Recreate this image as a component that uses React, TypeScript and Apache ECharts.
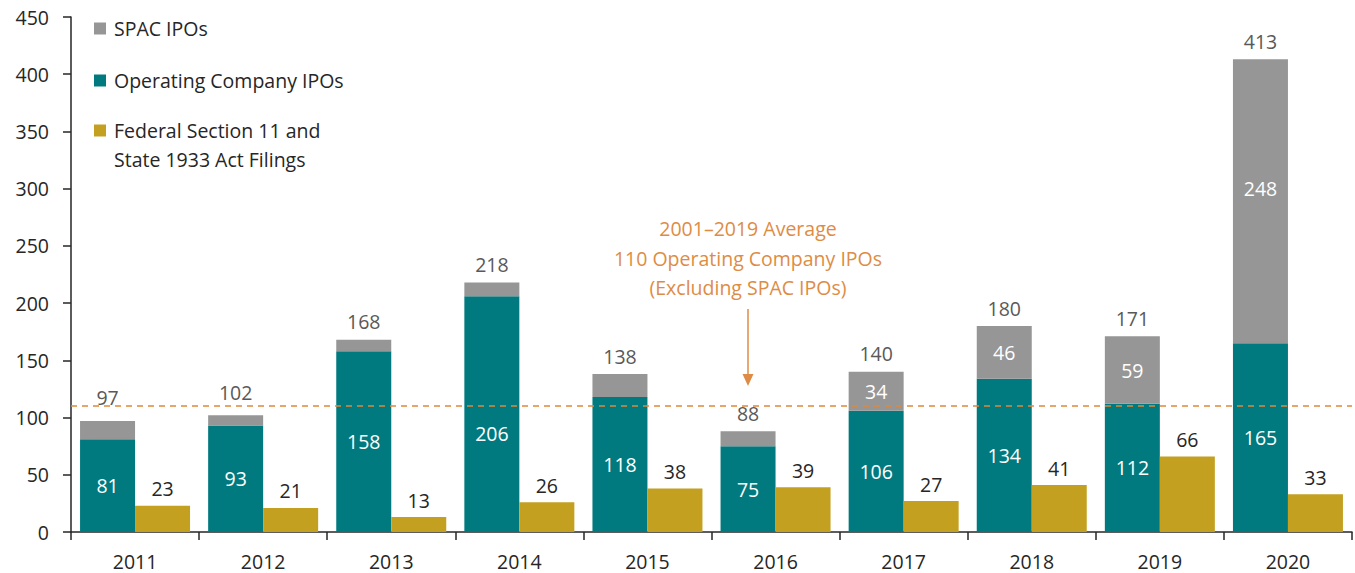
import React, { useEffect, useRef } from "react";
import * as echarts from "echarts";

const years = ["2011", "2012", "2013", "2014", "2015", "2016", "2017", "2018", "2019", "2020"];
const operatingIPOs = [81, 93, 158, 206, 118, 75, 106, 134, 112, 165];
const spacIPOs = [16, 9, 10, 12, 20, 13, 34, 46, 59, 248];
const totalIPOs = [97, 102, 168, 218, 138, 88, 140, 180, 171, 413];
const filings = [23, 21, 13, 26, 38, 39, 27, 41, 66, 33];
const averageOperating = 110;
const annotationLines = ["2001\u20132019 Average", "110 Operating Company IPOs", "(Excluding SPAC IPOs)"];

const SPAC_NAME = "SPAC IPOs";
const OP_NAME = "Operating Company IPOs";
const FED_NAME = "Federal Section 11 and\nState 1933 Act Filings";

const FONT = '"Open Sans", sans-serif';
const FS = 19.5;
const ORANGE = "#DE8C45";
const DARK = "#262626";

export default function App() {
  const ref = useRef<HTMLDivElement>(null);
  useEffect(() => {
    document.body.style.margin = "0";
    if (!ref.current) return;
    const chart = echarts.init(ref.current, undefined, { renderer: "svg" });
    const barW = 55;

    // label nudges to mirror the reference's hand-placed labels
    const opData = operatingIPOs.map((v, i) =>
      i === 3 ? { value: v, label: { offset: [0, 19] } } : v
    );
    const spacData = spacIPOs.map((v, i) =>
      i === 9 ? { value: v, label: { offset: [0, -13] } } : v
    );
    const totalData = totalIPOs.map((_, i) =>
      i <= 1 ? { value: 0, label: { offset: [0, -5] } } : 0
    );

    const option: any = {
      animation: false,
      textStyle: { fontFamily: FONT },
      grid: { left: 71, right: 3, top: 17, bottom: 41 },
      legend: [
        {
          data: [SPAC_NAME, OP_NAME],
          orient: "vertical",
          left: 94,
          top: 14,
          padding: 0,
          itemWidth: 12,
          itemHeight: 12,
          itemGap: 23,
          icon: "rect",
          textStyle: { fontSize: FS, lineHeight: 29, color: DARK, fontFamily: FONT, padding: [0, 0, 0, 3] },
        },
        {
          data: [FED_NAME],
          orient: "vertical",
          left: 94,
          top: 87,
          padding: 0,
          itemWidth: 12,
          itemHeight: 12,
          icon: "rect",
          formatter: (name: string) => "\n" + name,
          textStyle: { fontSize: FS, lineHeight: 29, color: DARK, fontFamily: FONT, padding: [0, 0, 0, 3] },
        },
      ],
      xAxis: {
        type: "category",
        data: years,
        axisLine: { lineStyle: { color: DARK, width: 1.5 } },
        axisTick: { show: true, length: 8, interval: 0, lineStyle: { color: DARK, width: 1.5 } },
        axisLabel: { margin: 19, fontSize: FS, color: DARK, fontFamily: FONT },
      },
      yAxis: {
        type: "value",
        min: 0,
        max: 450,
        interval: 50,
        axisLine: { show: true, lineStyle: { color: DARK, width: 1.5 } },
        axisTick: { show: true, length: 8, lineStyle: { color: DARK, width: 1.5 } },
        splitLine: { show: false },
        axisLabel: { margin: 22, fontSize: FS, color: DARK, fontFamily: FONT },
      },
      series: [
        {
          name: OP_NAME,
          type: "bar",
          stack: "ipo",
          barWidth: barW,
          barGap: "0%",
          data: opData,
          itemStyle: { color: "#007A7F" },
          label: { show: true, position: "inside", color: "#ffffff", fontSize: FS, fontFamily: FONT },
          markLine: {
            silent: true,
            symbol: "none",
            label: { show: false },
            lineStyle: { color: "#E0883A", type: [6, 5], width: 1.5 },
            data: [{ yAxis: averageOperating }],
          },
        },
        {
          name: SPAC_NAME,
          type: "bar",
          stack: "ipo",
          barWidth: barW,
          barGap: "0%",
          data: spacData,
          itemStyle: { color: "#969696" },
          label: {
            show: true,
            position: "inside",
            color: "#ffffff",
            fontSize: FS,
            fontFamily: FONT,
            formatter: (p: any) => (p.value >= 30 ? String(p.value) : ""),
          },
        },
        {
          name: "Total",
          type: "bar",
          stack: "ipo",
          barWidth: barW,
          barGap: "0%",
          data: totalData,
          itemStyle: { color: "transparent" },
          label: {
            show: true,
            position: "top",
            distance: 8,
            color: "#595959",
            fontSize: FS,
            fontFamily: FONT,
            formatter: (p: any) => String(totalIPOs[p.dataIndex]),
          },
        },
        {
          name: FED_NAME,
          type: "bar",
          barWidth: barW,
          barGap: "0%",
          data: filings,
          itemStyle: { color: "#C4A021" },
          label: { show: true, position: "top", distance: 7, color: DARK, fontSize: FS, fontFamily: FONT },
        },
      ],
      graphic: [
        {
          type: "text",
          x: 748,
          y: 214,
          style: {
            text: annotationLines.join("\n"),
            fill: ORANGE,
            fontSize: FS,
            fontFamily: FONT,
            align: "center",
            verticalAlign: "top",
            lineHeight: 29.5,
          },
        },
        {
          type: "line",
          shape: { x1: 748, y1: 309, x2: 748, y2: 376 },
          style: { stroke: ORANGE, lineWidth: 1.5 },
        },
        {
          type: "polygon",
          shape: { points: [[742.5, 374], [753.5, 374], [748, 386]] },
          style: { fill: ORANGE },
        },
      ],
    };
    chart.setOption(option);
    return () => chart.dispose();
  }, []);
  return <div ref={ref} style={{ width: 1355, height: 573 }} />;
}
